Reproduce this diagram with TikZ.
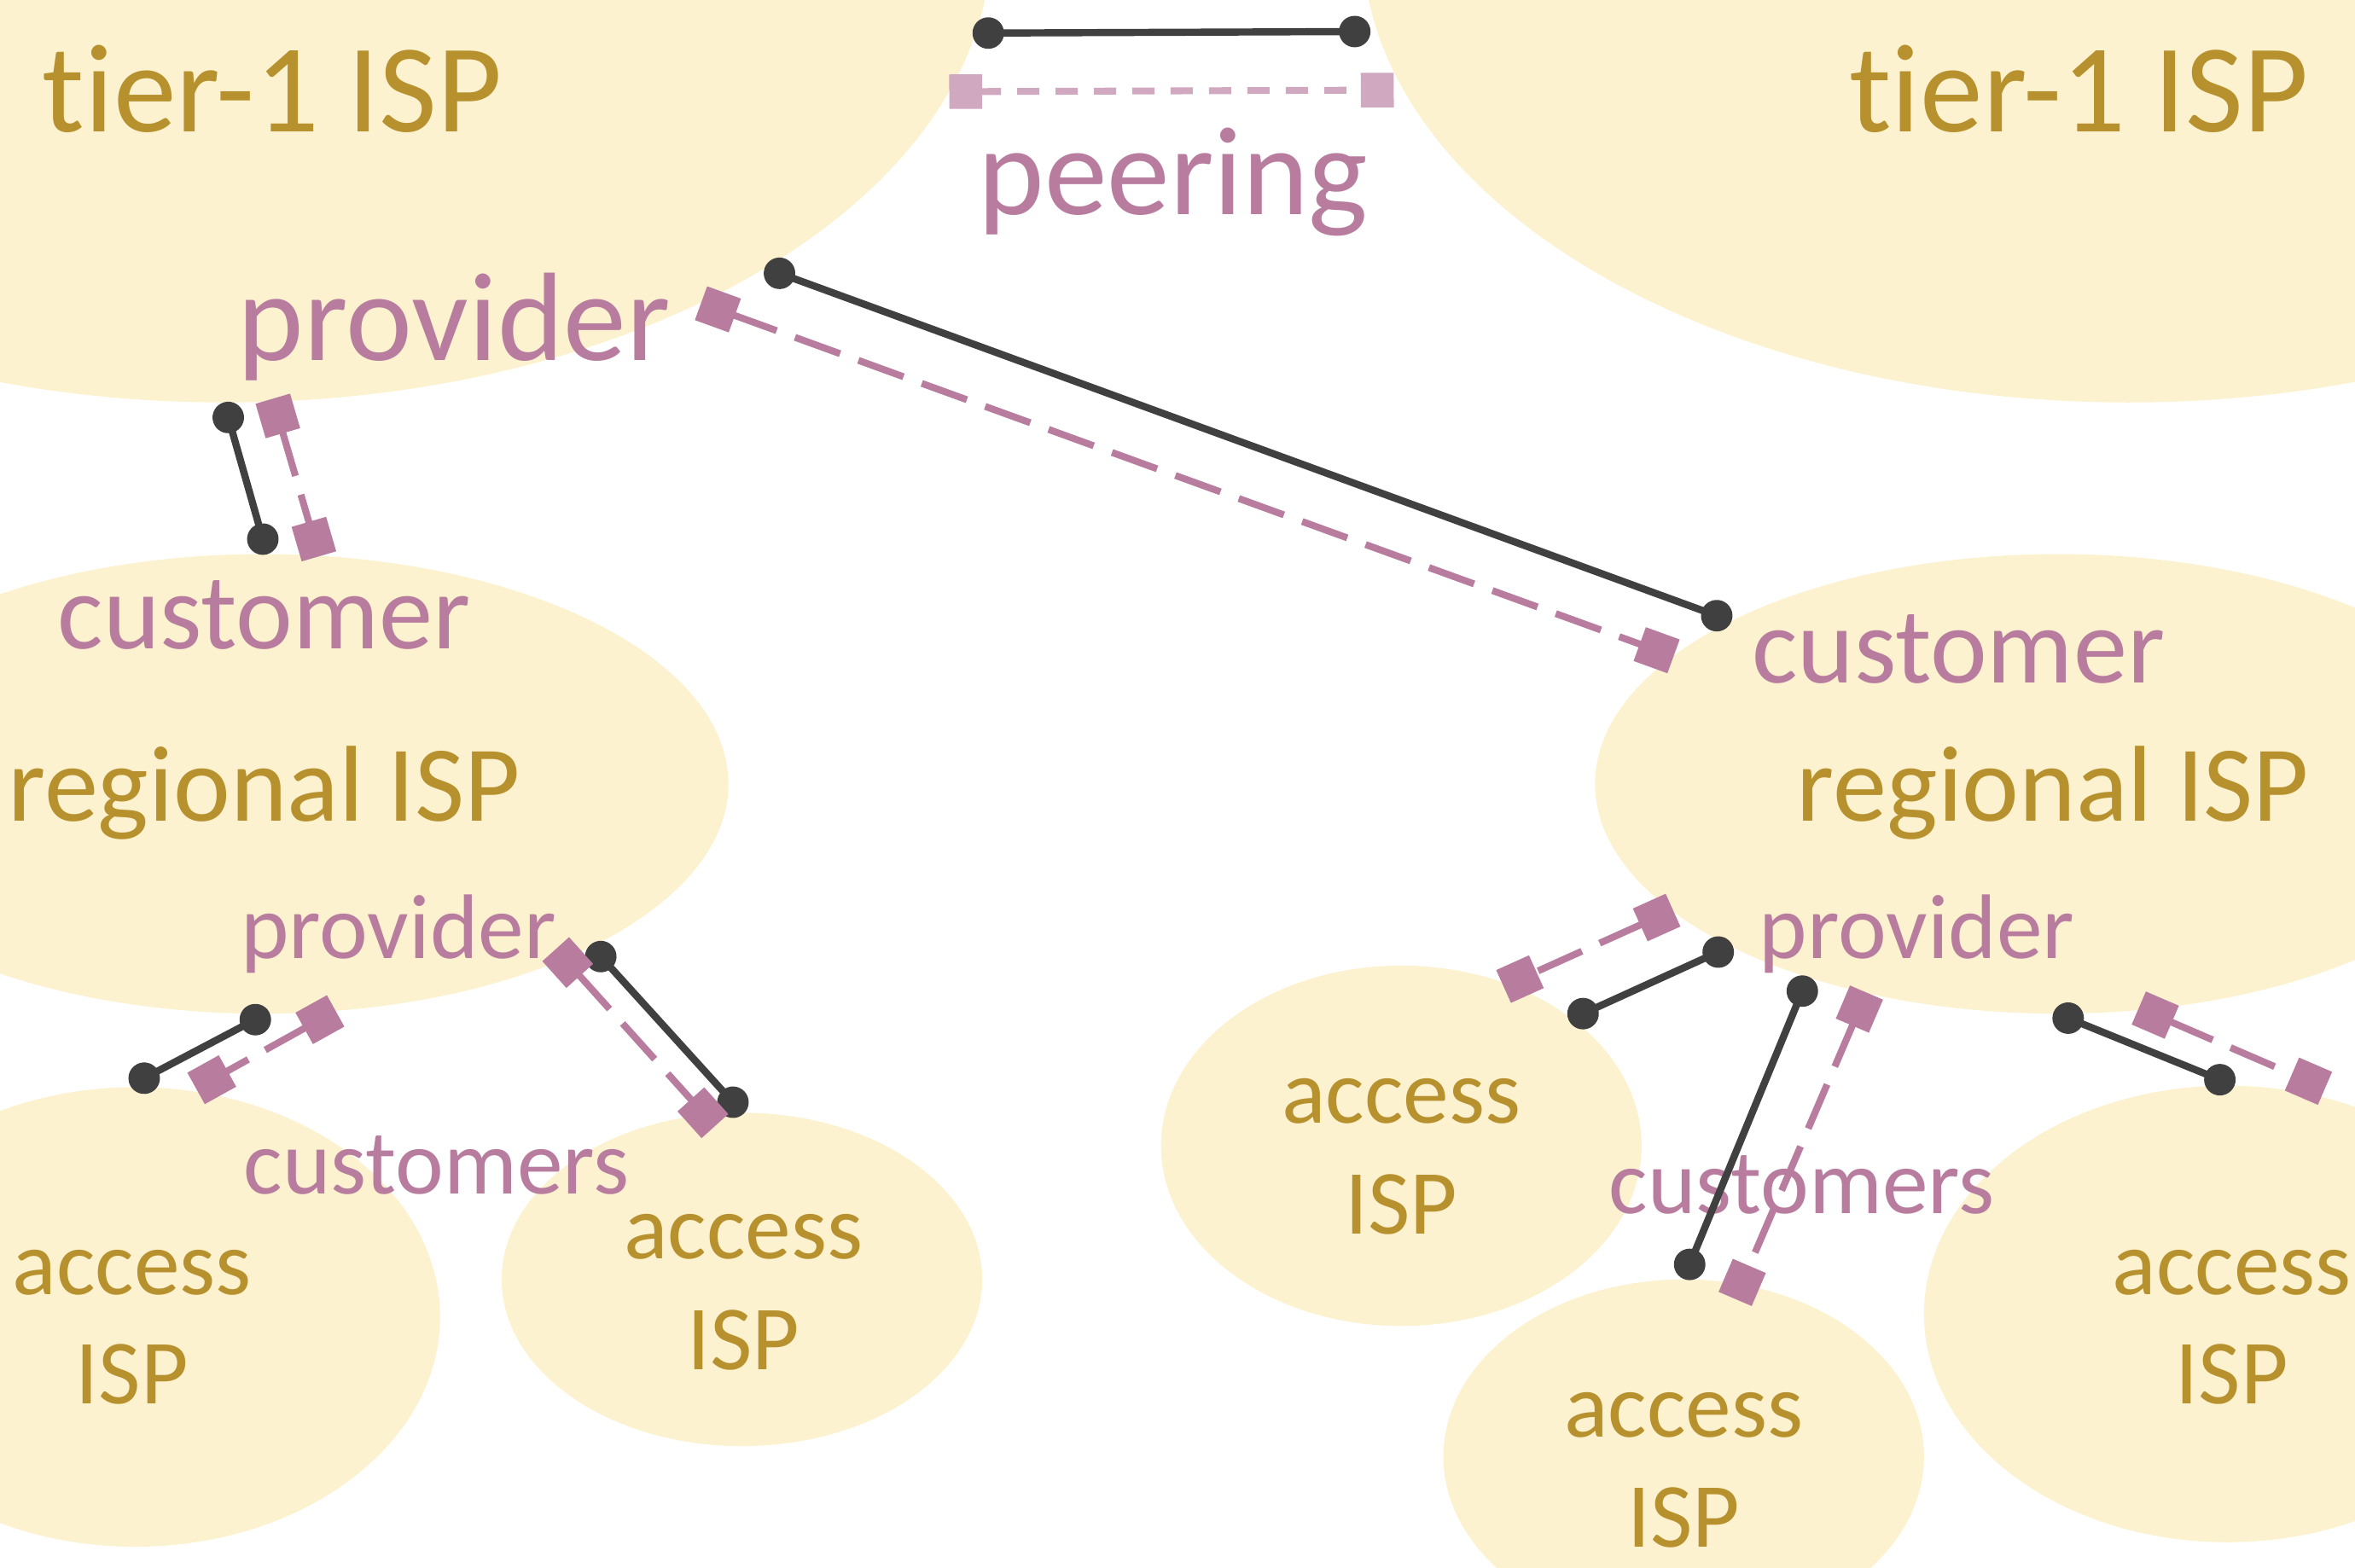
\documentclass[tikz,border=0pt]{standalone}
\usepackage{fontspec}
\setmainfont{Carlito}[Ligatures={NoCommon}]
\usetikzlibrary{shapes.geometric,arrows.meta}
\definecolor{ispfill}{HTML}{FDF2D0}
\definecolor{ispgold}{HTML}{B8912F}
\definecolor{relpink}{HTML}{B87D9E}
\definecolor{peerpink}{HTML}{D0A8C0}
\definecolor{linkgray}{HTML}{404040}
\def\u{0.017602cm}
\begin{document}
\begin{tikzpicture}[x=0.017602cm,y=-0.017602cm,
  isp/.style={ellipse, fill=ispfill, draw=none, inner sep=0pt},
  big/.style={font=\fontsize{42}{50}\selectfont, inner sep=0pt, anchor=base west},
  mid/.style={font=\fontsize{36}{43}\selectfont, inner sep=0pt, anchor=base west},
  sml/.style={font=\fontsize{30.6}{37}\selectfont, inner sep=0pt, anchor=base west},
  ctr/.style={font=\fontsize{30.6}{37}\selectfont, inner sep=0pt, anchor=base, text=ispgold},
  gold/.style={text=ispgold},
  rose/.style={text=relpink},
  link/.style={draw=linkgray, line width=2.4pt, arrows={Circle[length=10.5pt,width=10.5pt]-Circle[length=10.5pt,width=10.5pt]}, shorten <=-5.25pt, shorten >=-5.25pt},
  rel/.style={draw=relpink, line width=2.3pt, dash pattern=on 16pt off 6.5pt, arrows={Square[length=12pt,width=12pt]-Square[length=12pt,width=12pt]}, shorten <=-6pt, shorten >=-6pt},
  peer/.style={draw=peerpink, line width=2.3pt, dash pattern=on 7.4pt off 5.4pt, arrows={Square[length=11pt,width=11.5pt]-Square[length=11pt,width=11.5pt]}, shorten <=-5.5pt, shorten >=-5.5pt}
]
\useasboundingbox (0,0) rectangle (1568,1044);
\clip (0,0) rectangle (1568,1044);

% ISP ellipses
\node[isp, minimum width=1020*\u, minimum height=616*\u] (t1l) at (150,-40) {};
\node[isp, minimum width=1020*\u, minimum height=616*\u] (t1r) at (1417,-40) {};
\node[isp, minimum width=620*\u, minimum height=306*\u] (regl) at (175,522) {};
\node[isp, minimum width=616*\u, minimum height=306*\u] (regr) at (1370,522) {};
\node[isp, minimum width=406*\u, minimum height=306*\u] (accl) at (90,877) {};
\node[isp, minimum width=320*\u, minimum height=222*\u] (acc2) at (494,852) {};
\node[isp, minimum width=320*\u, minimum height=240*\u] (accr1) at (933,763) {};
\node[isp, minimum width=320*\u, minimum height=236*\u] (accr2) at (1121,970) {};
\node[isp, minimum width=404*\u, minimum height=304*\u] (accr3) at (1483,875) {};

% texts
\node[big, gold] (t1ltxt) at (28,88) {tier-1 ISP};
\node[big, gold] (t1rtxt) at (1231,88) {tier-1 ISP};
\node[big, rose] (peertxt) at (651,143) {peering};
\node[big, rose] (provtop) at (158,240) {provider};
\node[mid, rose] (custl) at (38,432) {customer};
\node[mid, gold] (regltxt) at (5,547) {regional ISP};
\node[sml, rose] (provl) at (160,638) {provider};
\node[sml, rose] (custsl) at (162,795) {customers};
\node[mid, rose] (custr) at (1166,455) {customer};
\node[mid, gold] (regrtxt) at (1196,547) {regional ISP};
\node[sml, rose] (provr) at (1171,638) {provider};
\node[sml, rose] (custsr) at (1071,808) {customers};

\node[ctr] (al1) at (88,862) {access};
\node[ctr] (al2) at (88,935) {ISP};
\node[ctr] (a21) at (495,838) {access};
\node[ctr] (a22) at (495,912) {ISP};
\node[ctr] (ar11) at (933,748) {access};
\node[ctr] (ar12) at (933,822) {ISP};
\node[ctr] (ar21) at (1121,957) {access};
\node[ctr] (ar22) at (1121,1030) {ISP};
\node[ctr] (ar31) at (1486,862) {access};
\node[ctr] (ar32) at (1486,935) {ISP};

% connector end points
\coordinate (p1) at (658,22);   \coordinate (p2) at (902,21);
\coordinate (q1) at (643,61);   \coordinate (q2) at (917,60);
\coordinate (a1) at (152,278);  \coordinate (a2) at (175,359);
\coordinate (b1) at (185,277);  \coordinate (b2) at (209,359);
\coordinate (c1) at (519,182);  \coordinate (c2) at (1143,410);
\coordinate (d1) at (478,206);  \coordinate (d2) at (1103,433);
\coordinate (e1) at (170,679);  \coordinate (e2) at (96,718);
\coordinate (f1) at (213,679);  \coordinate (f2) at (141,719);
\coordinate (g1) at (400,637);  \coordinate (g2) at (488,734);
\coordinate (h1) at (378,641);  \coordinate (h2) at (468,741);
\coordinate (i1) at (1144,634); \coordinate (i2) at (1054,675);
\coordinate (j1) at (1103,611); \coordinate (j2) at (1012,652);
\coordinate (k1) at (1200,660); \coordinate (k2) at (1125,842);
\coordinate (l1) at (1238,672); \coordinate (l2) at (1160,854);
\coordinate (m1) at (1377,678); \coordinate (m2) at (1478,719);
\coordinate (n1) at (1435,676); \coordinate (n2) at (1537,720);

% connectors
\draw[link] (p1) -- (p2);
\draw[peer] (q1) -- (q2);
\draw[link] (a1) -- (a2);
\draw[rel]  (b1) -- (b2);
\draw[link] (c1) -- (c2);
\draw[rel]  (d1) -- (d2);
\draw[link] (e1) -- (e2);
\draw[rel]  (f1) -- (f2);
\draw[link] (g1) -- (g2);
\draw[rel]  (h1) -- (h2);
\draw[link] (i1) -- (i2);
\draw[rel]  (j1) -- (j2);
\draw[link] (k1) -- (k2);
\draw[rel]  (l1) -- (l2);
\draw[link] (m1) -- (m2);
\draw[rel]  (n1) -- (n2);
\end{tikzpicture}
\end{document}
